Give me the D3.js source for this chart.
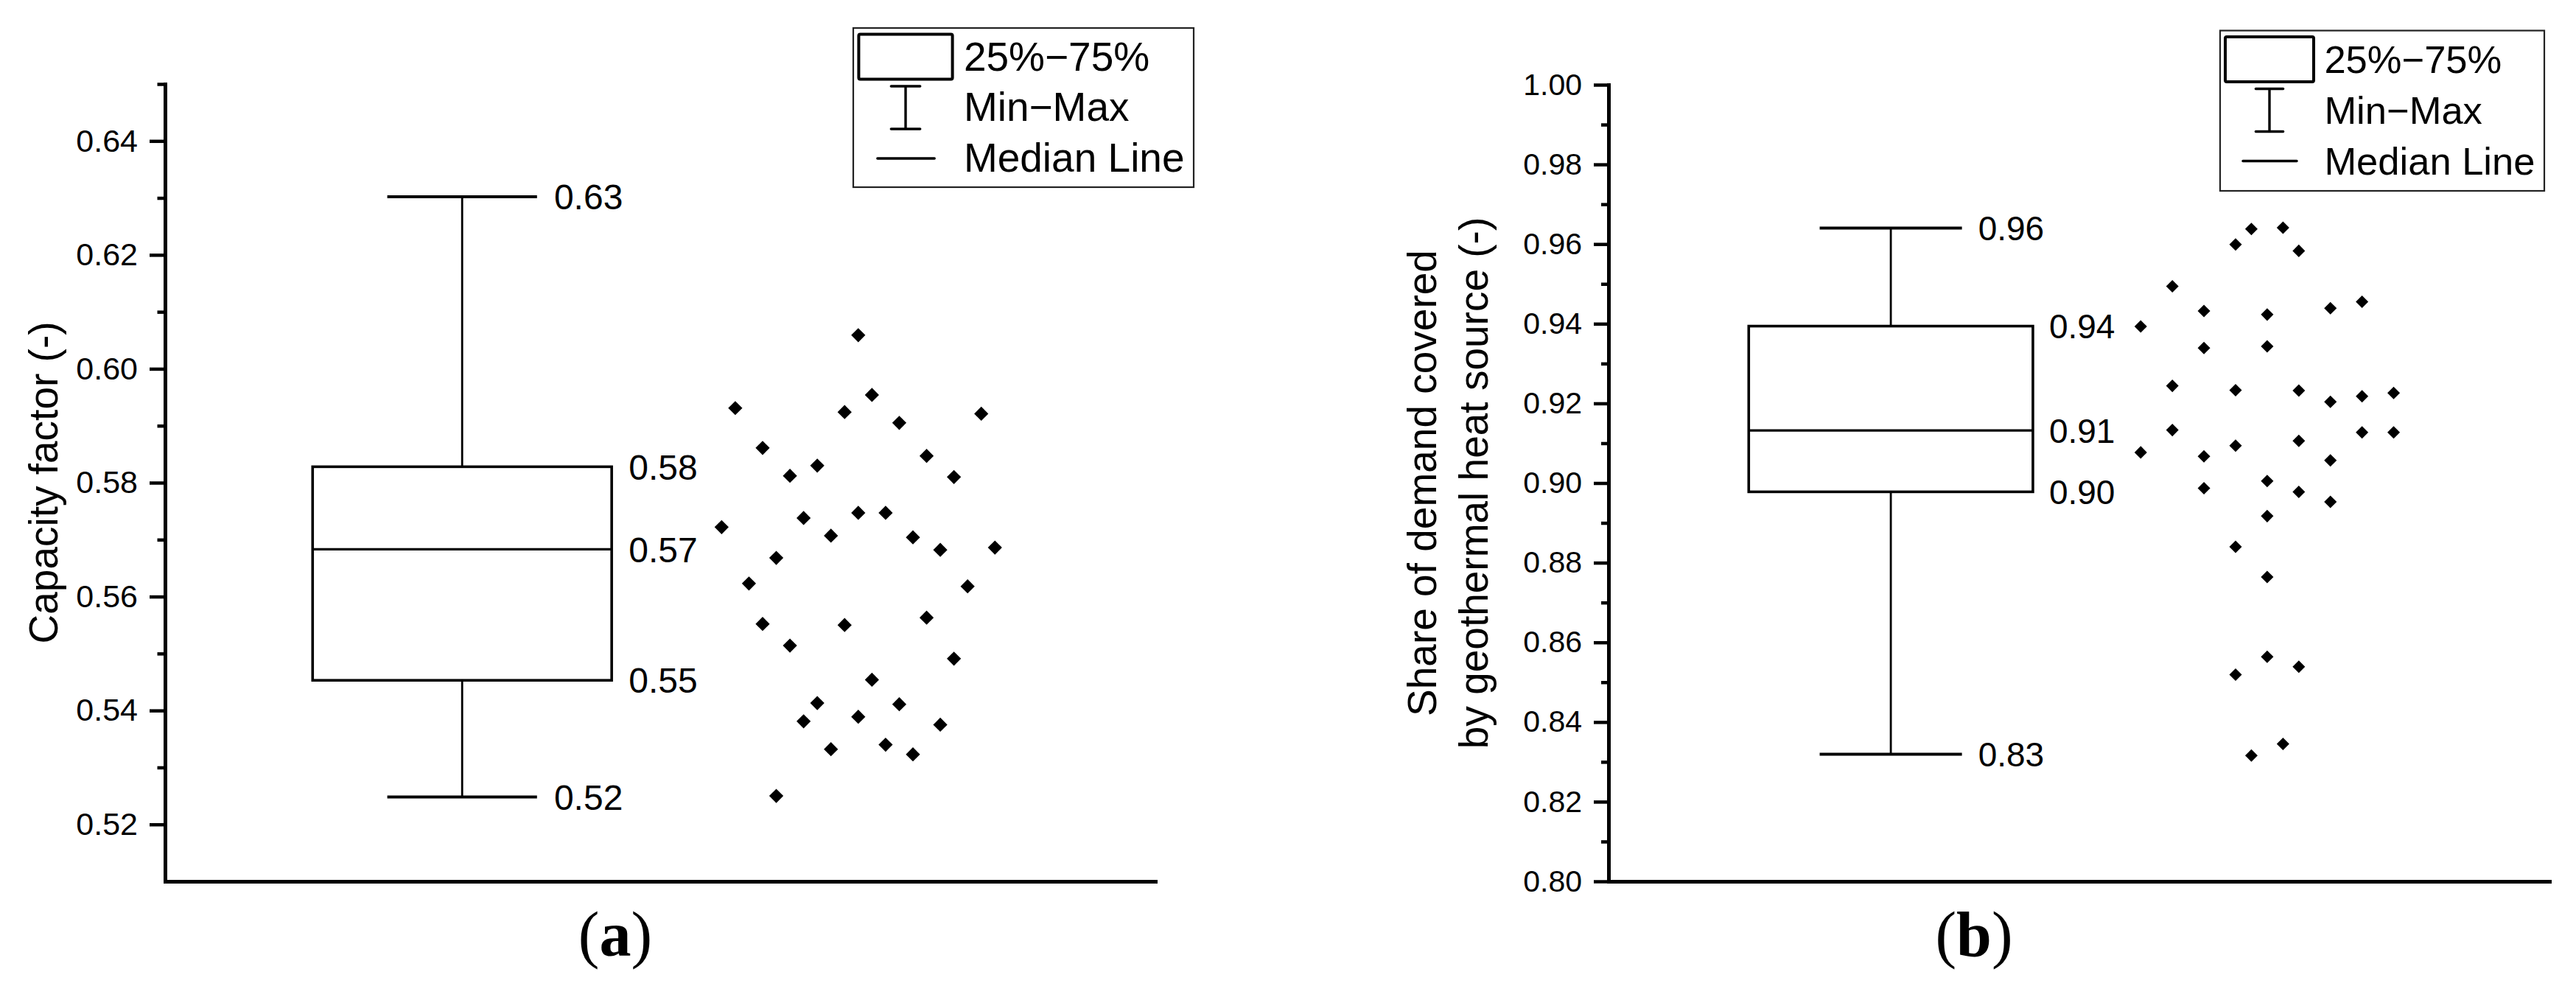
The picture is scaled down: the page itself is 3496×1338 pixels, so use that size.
<!DOCTYPE html>
<html>
<head>
<meta charset="utf-8">
<style>
    body { margin: 0; background: #fff; }
    svg { display: block; }
    text { font-family: "Liberation Sans", Arial, sans-serif; fill: #000; }
</style>
</head>
<body>
    <svg width="3496" height="1338"></svg>
    <script src="https://d3js.org/d3.v7.min.js"></script>
    <script>
    // ---- (a) capacity factor ----
    const capValues = [0.6059, 0.5931, 0.5954, 0.5924, 0.5921, 0.5905, 0.5861, 0.5830, 0.5812, 0.5847,
                       0.5810, 0.5722, 0.5738, 0.5747, 0.5747, 0.5707, 0.5704, 0.5682, 0.5686, 0.5668,
                       0.5623, 0.5618, 0.5552, 0.5550, 0.5563, 0.5514, 0.5491, 0.5454, 0.5413, 0.5411,
                       0.5381, 0.5389, 0.5375, 0.5332, 0.5340, 0.5323, 0.5250];
    // column of each point in the jittered cloud (0 = centre)
    const capJitter = [0, -9, 1, -1, 9, 3, -7, -3, -5, 5,
                       7, -10, -4, 0, 2, -2, 4, 6, 10, -6,
                       -8, 8, -7, -1, 5, -5, 7, 1, -3, 3,
                       -4, 0, 6, -2, 2, 4, -6];
    const capBox = [0.5248, 0.5453, 0.5683, 0.5828, 0.6302];  // min, q1, median, q3, max
    const capTicks = [0.52, 0.54, 0.56, 0.58, 0.60, 0.62, 0.64];
    const capMinor = [0.53, 0.55, 0.57, 0.59, 0.61, 0.63, 0.65];

    // ---- (b) share of demand covered ----
    const shareValues = [0.9638, 0.9641, 0.9599, 0.9583, 0.9494, 0.9432, 0.9423, 0.9439, 0.9455, 0.9393,
                         0.9339, 0.9343, 0.9244, 0.9233, 0.9232, 0.9204, 0.9218, 0.9226, 0.9133, 0.9094,
                         0.9106, 0.9127, 0.9127, 0.9077, 0.9067, 0.9057, 0.9005, 0.8987, 0.8978, 0.8953,
                         0.8917, 0.8840, 0.8764, 0.8564, 0.8519, 0.8539, 0.8345, 0.8316];
    const shareJitter = [-1, 1, -2, 2, -6, -4, 0, 4, 6, -8,
                         -4, 0, -6, -2, 2, 4, 6, 8, -6, -2,
                         2, 6, 8, -8, -4, 4, 0, -4, 2, 4,
                         0, -2, 0, 0, -2, 2, 1, -1];
    const shareBox = [0.8319, 0.8978, 0.9132, 0.9394, 0.9640];
    const shareTicks = [0.80, 0.82, 0.84, 0.86, 0.88, 0.90, 0.92, 0.94, 0.96, 0.98, 1.00];
    const shareMinor = [0.81, 0.83, 0.85, 0.87, 0.89, 0.91, 0.93, 0.95, 0.97, 0.99];

    const legendLabels = ["25%\u221275%", "Min\u2212Max", "Median Line"];

    const fmt = d3.format(".2f");
    const BOX_W = 0.755, CAP_W = 0.378;

    function drawAxes(g, cfg, x, y) {
        // minor ticks
        g.append("g")
            .attr("transform", `translate(${cfg.left},0)`)
            .call(d3.axisLeft(y).tickValues(cfg.minor).tickSize(10 * cfg.k).tickFormat(""))
            .call(a => a.select(".domain").remove())
            .call(a => a.selectAll("line").attr("stroke-width", 4.5));

        // major ticks + axis line
        const ya = g.append("g")
            .attr("transform", `translate(${cfg.left},0)`)
            .call(d3.axisLeft(y).tickValues(cfg.ticks).tickSize(20 * cfg.k).tickSizeOuter(0)
                .tickPadding(16).tickFormat(fmt));
        ya.select(".domain").attr("stroke-width", 5).attr("stroke-linecap", "square");
        ya.selectAll(".tick line").attr("stroke-width", 4.5);
        ya.selectAll("text").attr("font-size", cfg.tickFont)
            .attr("font-family", "Liberation Sans, Arial, sans-serif");

        const xa = g.append("g")
            .attr("transform", `translate(0,${cfg.bottom})`)
            .call(d3.axisBottom(x).tickValues([]).tickSizeOuter(0));
        xa.select(".domain").attr("stroke-width", 5).attr("stroke-linecap", "square");
    }

    function drawBox(g, cfg, x, y) {
        const [mn, q1, md, q3, mx] = cfg.box;
        const bx0 = x(1 - BOX_W / 2), bx1 = x(1 + BOX_W / 2);
        const cx0 = x(1 - CAP_W / 2), cx1 = x(1 + CAP_W / 2);

        g.append("line").attr("x1", x(1)).attr("x2", x(1)).attr("y1", y(q3)).attr("y2", y(mx))
            .attr("stroke", "#000").attr("stroke-width", 2.8);
        g.append("line").attr("x1", x(1)).attr("x2", x(1)).attr("y1", y(q1)).attr("y2", y(mn))
            .attr("stroke", "#000").attr("stroke-width", 2.8);
        [mx, mn].forEach(v => {
            g.append("line").attr("x1", cx0).attr("x2", cx1).attr("y1", y(v)).attr("y2", y(v))
                .attr("stroke", "#000").attr("stroke-width", 4);
        });
        g.append("rect")
            .attr("x", bx0).attr("y", y(q3))
            .attr("width", bx1 - bx0).attr("height", y(q1) - y(q3))
            .attr("fill", "none").attr("stroke", "#000").attr("stroke-width", 3.6);
        g.append("line").attr("x1", bx0).attr("x2", bx1).attr("y1", y(md)).attr("y2", y(md))
            .attr("stroke", "#000").attr("stroke-width", 3.4);

        const labels = [
            { v: mx, x: cx1 }, { v: q3, x: bx1 }, { v: md, x: bx1 },
            { v: q1, x: bx1 }, { v: mn, x: cx1 }
        ];
        g.selectAll("text.stat").data(labels).join("text")
            .attr("class", "stat")
            .attr("x", d => d.x + 22 * cfg.k)
            .attr("y", d => y(d.v))
            .attr("dy", "0.36em")
            .attr("font-size", cfg.statFont)
            .text(d => fmt(d.v));
    }

    function drawPoints(g, cfg, x, y) {
        const sym = d3.symbol(d3.symbolSquare, cfg.markerArea);
        g.selectAll("path.pt").data(cfg.values).join("path")
            .attr("class", "pt")
            .attr("d", sym)
            .attr("fill", "#000")
            .attr("transform", (d, i) =>
                `translate(${x(2 + cfg.jitter[i] * cfg.jitterStep)},${y(d)}) rotate(45)`);
    }

    function drawLegend(g, lg) {
        const L = g.append("g").attr("transform", `translate(${lg.x},${lg.y})`);
        const kx = lg.kx;
        L.append("rect").attr("width", lg.w).attr("height", lg.h)
            .attr("fill", "#fff").attr("stroke", "#222").attr("stroke-width", 2.2);
        L.append("rect").attr("x", 7 * kx).attr("y", 8.5).attr("width", 120 * kx).attr("height", 61)
            .attr("rx", 2).attr("fill", "none").attr("stroke", "#000").attr("stroke-width", 4);
        L.append("line").attr("x1", 67 * kx).attr("x2", 67 * kx).attr("y1", 79).attr("y2", 137)
            .attr("stroke", "#000").attr("stroke-width", 3.4);
        [79, 137].forEach(yy => {
            L.append("line").attr("x1", 48.5 * kx).attr("x2", 85.5 * kx).attr("y1", yy).attr("y2", yy)
                .attr("stroke", "#000").attr("stroke-width", 3.6).attr("stroke-linecap", "round");
        });
        L.append("line").attr("x1", 31 * kx).attr("x2", 104 * kx).attr("y1", 177).attr("y2", 177)
            .attr("stroke", "#000").attr("stroke-width", 3.4).attr("stroke-linecap", "round");
        const baselines = [57.5, 126, 195];
        L.selectAll("text").data(legendLabels).join("text")
            .attr("x", 141.4 * kx)
            .attr("y", (d, i) => baselines[i])
            .attr("font-size", lg.font)
            .text(d => d);
    }

    function drawPanel(svg, cfg) {
        const g = svg.append("g");
        const x = d3.scaleLinear().domain([0.25, 2.75]).range([cfg.left, cfg.right]);
        const y = d3.scaleLinear().domain(cfg.yDomain).range([cfg.bottom, cfg.top]);

        drawAxes(g, cfg, x, y);
        drawBox(g, cfg, x, y);
        drawPoints(g, cfg, x, y);

        // y title (one or two lines, rotated)
        const midY = (cfg.top + cfg.bottom) / 2;
        cfg.title.forEach((line, i) => {
            g.append("text")
                .attr("transform", `translate(${cfg.titleX + i * 70},${midY}) rotate(-90)`)
                .attr("text-anchor", "middle")
                .attr("font-size", cfg.titleFont)
                .text(line);
        });

        // panel tag (a)/(b)
        const tag = g.append("text")
            .attr("x", cfg.tagX).attr("y", 1297)
            .attr("text-anchor", "middle")
            .attr("font-size", 86)
            .style("font-family", "'Liberation Serif', 'Times New Roman', serif");
        tag.append("tspan").text("(");
        tag.append("tspan").attr("font-weight", "bold").text(cfg.tag);
        tag.append("tspan").text(")");

        drawLegend(g, cfg.legend);
    }

    const svg = d3.select("svg");

    drawPanel(svg, {
        left: 224, right: 1568, top: 114, bottom: 1196,
        yDomain: [0.51, 0.65], ticks: capTicks, minor: capMinor,
        values: capValues, jitter: capJitter, jitterStep: 0.0345, box: capBox,
        k: 1.05, tickFont: 43, statFont: 48, markerArea: 185,
        title: ["Capacity factor (-)"], titleX: 78, titleFont: 55,
        tag: "a", tagX: 835,
        legend: { x: 1158, y: 38, w: 462, h: 216, kx: 1.06, font: 55 }
    });

    drawPanel(svg, {
        left: 2183, right: 3460, top: 115, bottom: 1196,
        yDomain: [0.80, 1.00], ticks: shareTicks, minor: shareMinor,
        values: shareValues, jitter: shareJitter, jitterStep: 0.042, box: shareBox,
        k: 1.0, tickFont: 41, statFont: 46, markerArea: 145,
        title: ["Share of demand covered", "by geothermal heat source (-)"], titleX: 1949, titleFont: 55,
        tag: "b", tagX: 2679,
        legend: { x: 3013, y: 41.5, w: 440, h: 217.5, kx: 1.0, font: 52.5 }
    });
    </script>
</body>
</html>
